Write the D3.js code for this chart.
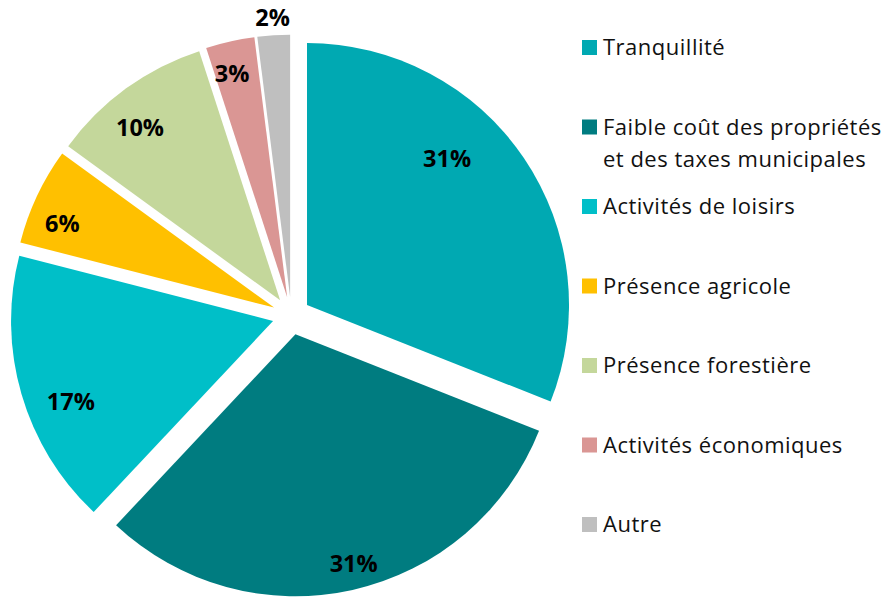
<!DOCTYPE html>
<html>
<head>
<meta charset="utf-8">
<script src="https://cdn.jsdelivr.net/npm/d3@7"></script>
<style>
  html, body { margin: 0; padding: 0; background: #fff; }
  svg { display: block; }
</style>
</head>
<body>
<svg id="chart" width="890" height="598"></svg>
<script>
// ---- data ----
const categories = [
  "Tranquillité",
  "Faible coût des propriétés|et des taxes municipales",
  "Activités de loisirs",
  "Présence agricole",
  "Présence forestière",
  "Activités économiques",
  "Autre"
];
const values = [31, 31, 17, 6, 10, 3, 2];
const valueLabels = ["31%", "31%", "17%", "6%", "10%", "3%", "2%"];
const colors = ["#00A9B2", "#007C80", "#00BFC8", "#FFC000", "#C4D79B", "#DA9694", "#BFBFBF"];

// ---- layout ----
const W = 890, H = 598;
const cx = 291.3, cy = 315.7, R = 262, explode = 19;
// label placement: [angle shift (deg), radius fraction]
const labelTweak = [[-12.2, 0.775], [-1.7, 0.90], [-5.4, 0.83], [-3.5, 0.87], [-3, 0.85], [-1.2, 0.88], [0, 1.07]];

const svg = d3.select("#chart");
const pie = d3.pie().sort(null).value(d => d).startAngle(0).endAngle(2 * Math.PI);
const arcs = pie(values);
const arc = d3.arc().innerRadius(0).outerRadius(R);

const g = svg.append("g").attr("transform", `translate(${cx},${cy})`);

const slice = g.selectAll("g.slice").data(arcs).join("g")
  .attr("class", "slice")
  .attr("transform", d => {
    const m = (d.startAngle + d.endAngle) / 2;
    return `translate(${explode * Math.sin(m)},${-explode * Math.cos(m)})`;
  });

slice.append("path")
  .attr("d", arc)
  .attr("fill", (d, i) => colors[i]);

slice.append("text")
  .attr("x", (d, i) => {
    const m = (d.startAngle + d.endAngle) / 2 + labelTweak[i][0] * Math.PI / 180;
    return R * labelTweak[i][1] * Math.sin(m);
  })
  .attr("y", (d, i) => {
    const m = (d.startAngle + d.endAngle) / 2 + labelTweak[i][0] * Math.PI / 180;
    return -R * labelTweak[i][1] * Math.cos(m);
  })
  .attr("text-anchor", "middle")
  .attr("dominant-baseline", "central")
  .attr("font-family", "'Open Sans', Lato, sans-serif")
  .attr("font-weight", "bold")
  .attr("font-size", 23.5)
  .attr("fill", "#000")
  .text((d, i) => valueLabels[i]);

// ---- legend ----
const legend = svg.append("g").attr("transform", "translate(582,0)");
const y0 = 55, step = 79.5;
const item = legend.selectAll("g.item").data(categories).join("g")
  .attr("class", "item")
  .attr("transform", (d, i) => `translate(0,${y0 + i * step})`);

item.append("rect")
  .attr("x", 0).attr("y", -15).attr("width", 15).attr("height", 15)
  .attr("fill", (d, i) => colors[i]);

item.append("text")
  .attr("x", 21).attr("y", 0)
  .attr("font-family", "'Open Sans', Lato, sans-serif")
  .attr("font-size", 22)
  .attr("letter-spacing", 0.5)
  .attr("fill", "#111")
  .each(function(d) {
    const lines = d.split("|");
    const t = d3.select(this);
    lines.forEach((ln, k) => {
      t.append("tspan").attr("x", 21).attr("dy", k === 0 ? 0 : 32).text(ln);
    });
  });
</script>
</body>
</html>
